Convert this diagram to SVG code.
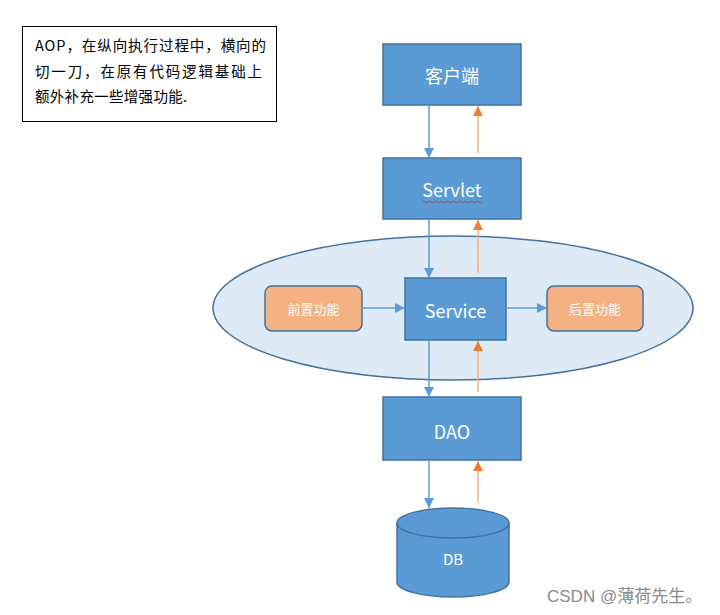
<svg xmlns="http://www.w3.org/2000/svg" width="720" height="615" viewBox="0 0 720 615">
<defs>
<style>
.box{fill:#5B9BD5;stroke:#41719C;stroke-width:1.5}
.orng{fill:#F4B183;stroke:#41719C;stroke-width:1.5}
.t{font-family:"Microsoft YaHei","Noto Sans CJK SC","Noto Sans",sans-serif;fill:#fff;text-anchor:middle;dominant-baseline:central}
.note{font-family:"Microsoft YaHei","Noto Sans CJK SC","Noto Sans",sans-serif;font-size:14.5px;fill:#000}
.bl{stroke:#5B9BD5;stroke-width:1.5;fill:none}
.or{stroke:#F4B183;stroke-width:1.5;fill:none}
</style>
<marker id="ab" viewBox="0 0 10 10" refX="10" refY="5" markerWidth="10" markerHeight="10" markerUnits="userSpaceOnUse" orient="auto"><path d="M0,0 L10,5 L0,10 z" fill="#5B9BD5"/></marker>
<marker id="ao" viewBox="0 0 10 10" refX="10" refY="5" markerWidth="10" markerHeight="10" markerUnits="userSpaceOnUse" orient="auto"><path d="M0,0 L10,5 L0,10 z" fill="#ED7D31"/></marker>
</defs>
<rect width="720" height="615" fill="#fff"/>

<g id="note">
<rect x="22.5" y="26.5" width="254" height="95" fill="#fff" stroke="#000" stroke-width="1"/>
<text class="note" x="35" y="51" textLength="231" lengthAdjust="spacing">AOP，在纵向执行过程中，横向的</text>
<text class="note" x="35" y="77" textLength="227" lengthAdjust="spacing">切一刀，在原有代码逻辑基础上</text>
<text class="note" x="35" y="102" textLength="152" lengthAdjust="spacing">额外补充一些增强功能.</text>
</g>

<g id="aop-ellipse">
<ellipse cx="453" cy="308" rx="240" ry="72" fill="#DEEBF7" stroke="#41719C" stroke-width="1.5"/>
</g>

<g id="client">
<rect class="box" x="383" y="44" width="138" height="61"/>
<text class="t" x="452" y="75" font-size="18">客户端</text>
</g>

<g id="servlet">
<rect class="box" x="383" y="158" width="138" height="61"/>
<text class="t" x="452" y="189" font-size="18">Servlet</text>
<path d="M422,202 q1.5,-2 3,0 t3,0 t3,0 t3,0 t3,0 t3,0 t3,0 t3,0 t3,0 t3,0 t3,0 t3,0 t3,0 t3,0 t3,0 t3,0 t3,0 t3,0 t3,0 t3,0" fill="none" stroke="#E03030" stroke-width="1"/>
</g>

<g id="service">
<rect class="box" x="405" y="278" width="101" height="62"/>
<text class="t" x="455.5" y="310" font-size="18">Service</text>
</g>

<g id="before">
<rect class="orng" x="265" y="286" width="97" height="45" rx="7"/>
<text class="t" x="313.5" y="308.5" font-size="13">前置功能</text>
</g>

<g id="after">
<rect class="orng" x="547" y="286" width="96" height="45" rx="7"/>
<text class="t" x="595" y="308.5" font-size="13">后置功能</text>
</g>

<g id="dao">
<rect class="box" x="383" y="397" width="138" height="63"/>
<text class="t" x="452" y="431" font-size="18">DAO</text>
</g>

<g id="db">
<path d="M397,523 L397,582 A56,15 0 0 0 509,582 L509,523" fill="#5B9BD5" stroke="#41719C" stroke-width="1.5"/>
<ellipse cx="453" cy="523" rx="56" ry="15" fill="#5B9BD5" stroke="#41719C" stroke-width="1.5"/>
<text class="t" x="453" y="558" font-size="15">DB</text>
</g>

<g id="connectors">
<line class="bl" x1="429" y1="105" x2="429" y2="158" marker-end="url(#ab)"/>
<line class="or" x1="478" y1="153" x2="478" y2="106" marker-end="url(#ao)"/>
<line class="bl" x1="429" y1="219" x2="429" y2="278" marker-end="url(#ab)"/>
<line class="or" x1="478" y1="273" x2="478" y2="220" marker-end="url(#ao)"/>
<line class="bl" x1="429" y1="340" x2="429" y2="397" marker-end="url(#ab)"/>
<line class="or" x1="478" y1="392" x2="478" y2="341" marker-end="url(#ao)"/>
<line class="bl" x1="429" y1="460" x2="429" y2="508" marker-end="url(#ab)"/>
<line class="or" x1="478" y1="503" x2="478" y2="461" marker-end="url(#ao)"/>
<line class="bl" x1="362" y1="308" x2="405" y2="308" marker-end="url(#ab)"/>
<line class="bl" x1="506" y1="308" x2="547" y2="308" marker-end="url(#ab)"/>
</g>

<text x="547" y="602" font-family="'Liberation Sans','Noto Sans CJK SC',sans-serif" font-size="17" fill="#8a8a8a">CSDN @薄荷先生。</text>
</svg>
